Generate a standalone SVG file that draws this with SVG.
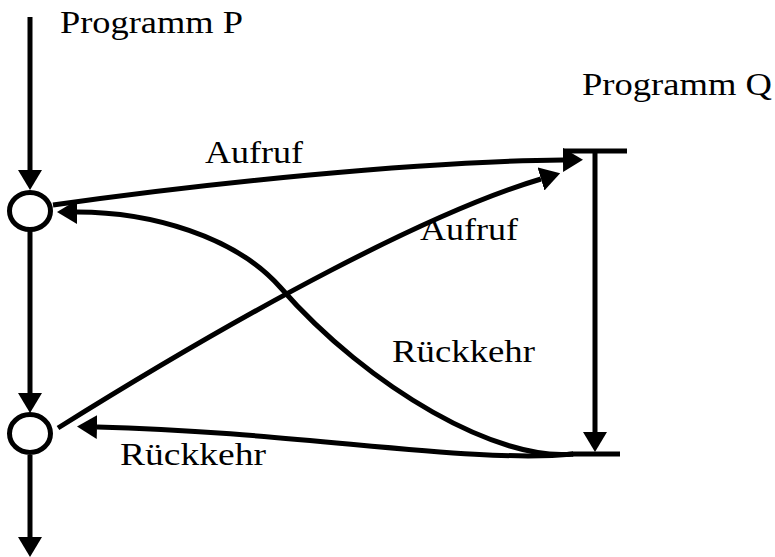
<svg xmlns="http://www.w3.org/2000/svg" width="775" height="557" viewBox="0 0 775 557">
<style>
.ln{fill:none;stroke:#000;stroke-width:5}
.nd{fill:#fff;stroke:#000;stroke-width:5}
.tx{font-family:"Liberation Serif","Times New Roman",serif;font-size:31px;fill:#000}
</style>
<defs>
<marker id="ah" markerUnits="userSpaceOnUse" viewBox="0 0 20 24" refX="0" refY="12" markerWidth="20" markerHeight="24" orient="auto">
<path d="M0,0 L20,12 L0,24 z" fill="#000"/>
</marker>
</defs>
<rect width="775" height="557" fill="#fff"/>
<g id="connectors">
<path class="ln" d="M30,17 V170" marker-end="url(#ah)"/>
<path class="ln" d="M30,230 V393" marker-end="url(#ah)"/>
<path class="ln" d="M30,455 V537" marker-end="url(#ah)"/>
<path class="ln" d="M595,151 V432" marker-end="url(#ah)"/>
<path class="ln" d="M53,205 C200,184 420,161 563,160" marker-end="url(#ah)"/>
<path class="ln" d="M58,428 C250,308 430,212 541,179" marker-end="url(#ah)"/>
<path class="ln" d="M573,454 C500,462 370,390 280,287 C235,236 150,212 77,212" marker-end="url(#ah)"/>
<path class="ln" d="M573,454 C470,464 300,432 97,427" marker-end="url(#ah)"/>
</g>
<g id="P1"><ellipse class="nd" cx="30" cy="211" rx="20.5" ry="18.5"/></g>
<g id="P2"><ellipse class="nd" cx="30" cy="433.5" rx="20.5" ry="19"/></g>
<g id="Q">
<path class="ln" d="M563,151 H627"/>
<path class="ln" d="M572,454 H620"/>
</g>
<g id="labels">
<text class="tx" x="60" y="33" textLength="183" lengthAdjust="spacingAndGlyphs">Programm P</text>
<text class="tx" x="582" y="95" textLength="190" lengthAdjust="spacingAndGlyphs">Programm Q</text>
<text class="tx" x="205" y="163" textLength="98" lengthAdjust="spacingAndGlyphs">Aufruf</text>
<text class="tx" x="420" y="240" textLength="98" lengthAdjust="spacingAndGlyphs">Aufruf</text>
<text class="tx" x="392" y="362" textLength="143" lengthAdjust="spacingAndGlyphs">Rückkehr</text>
<text class="tx" x="120" y="465" textLength="146" lengthAdjust="spacingAndGlyphs">Rückkehr</text>
</g>
</svg>
